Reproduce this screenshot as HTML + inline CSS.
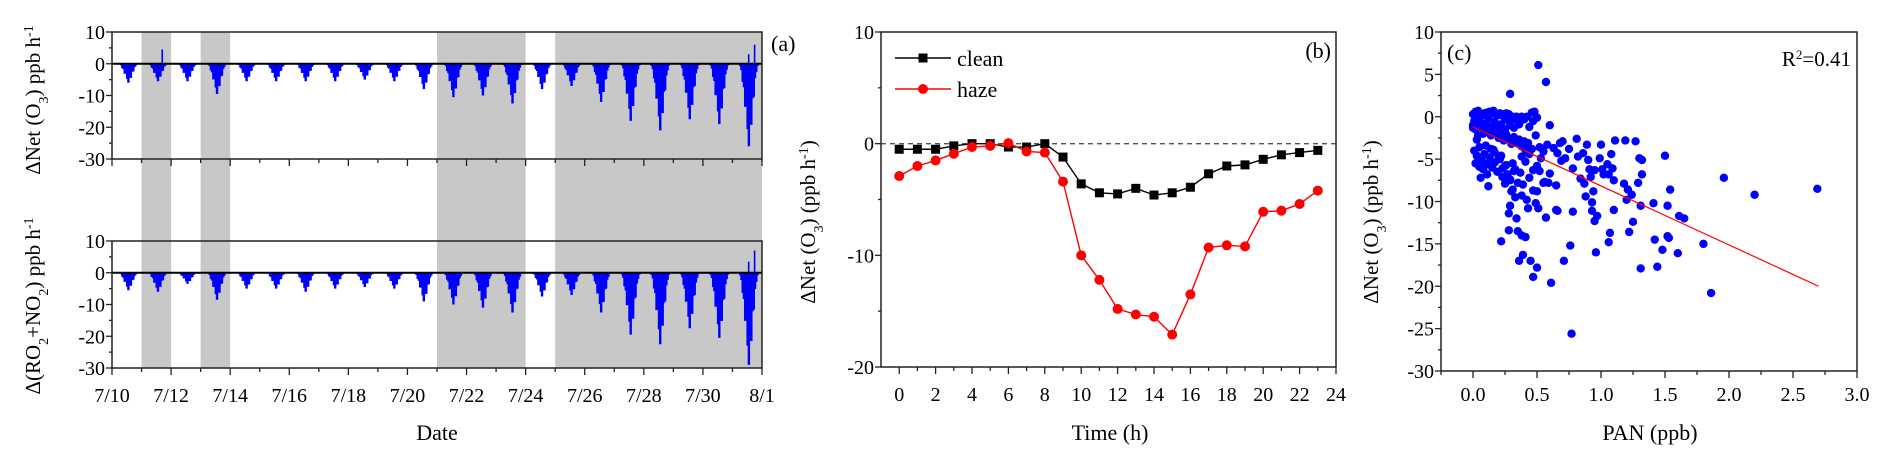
<!DOCTYPE html>
<html><head><meta charset="utf-8">
<style>
html,body{margin:0;padding:0;background:#fff;}
svg{display:block;font-family:"Liberation Serif","DejaVu Serif",serif;}
</style></head>
<body>
<svg id="fig" width="1892" height="464" viewBox="0 0 1892 464" xmlns="http://www.w3.org/2000/svg">
<g id="pa"></g>
<g id="pb"></g>
<g id="pc"></g>
</svg>
<script>
// ---------- Panel (a) data ----------
const dayLabels = ["7/10","7/12","7/14","7/16","7/18","7/20","7/22","7/24","7/26","7/28","7/30","8/1"];
const netDailyMin = [-6,-5.5,-5.5,-9.5,-5.5,-5.5,-5.5,-5.5,-5,-5.5,-8,-10.5,-10,-12.5,-8,-7,-12,-18,-21,-17.5,-19,-26];
const roDailyMin = [-5.5,-6,-3.5,-8.5,-5,-5,-6,-5,-4.5,-5,-9,-10,-11,-12.5,-7.5,-7,-12.5,-19.5,-22.5,-17.5,-20.5,-29];
const hourProfile = [0,0,0,0,0,0,0.03,0.1,0.22,0.38,0.55,0.72,0.88,1,0.92,0.78,0.6,0.4,0.22,0.1,0.03,0,0,0];
const hourJitter = [1,1,1,1,1,1,1,0.8,1.0,0.75,0.95,0.7,0.9,1,0.8,0.95,0.7,1,0.8,1,1,1,1,1];
const netSpikeDays = [1.7,21.55,21.75];
const netSpikeVals = [4.5,3,6];
const roSpikeDays = [21.55,21.75];
const roSpikeVals = [3.5,7];
const hazeStart = [1,3,11,15];
const hazeEnd = [2,4,14,22];
// ---------- Panel (b) data ----------
const hours = [0,1,2,3,4,5,6,7,8,9,10,11,12,13,14,15,16,17,18,19,20,21,22,23];
const cleanVals = [-0.5,-0.5,-0.5,-0.2,0,0,-0.3,-0.3,0,-1.2,-3.6,-4.4,-4.5,-4,-4.6,-4.4,-3.9,-2.7,-2.0,-1.9,-1.4,-1.0,-0.8,-0.6];
const hazeVals = [-2.9,-2.0,-1.5,-0.9,-0.3,-0.2,0.05,-0.7,-0.8,-3.4,-10,-12.2,-14.8,-15.3,-15.5,-17.1,-13.5,-9.3,-9.1,-9.2,-6.1,-6.0,-5.4,-4.2];
// ---------- Panel (c) data ----------
const panX = [0.51,0.57,0.29,0.03,0.06,0.12,0.22,0.28,0.35,0.34,0.38,0.41,0.36,0.39,0.45,0.47,0.5,0.61,0.77,0.71,0.76,0.78,0.65,0.66,0.57,0.51,0.49,0.43,0.42,0.38,0.33,0.29,0.28,0.3,0.47,0.5,0.55,0.59,0.52,0.6,0.65,0.69,0.72,0.75,0.78,0.81,0.82,0.84,0.86,0.87,0.88,0.89,0.9,0.91,0.92,0.93,0.93,0.94,0.95,0.96,0.97,0.95,0.99,1.0,1.01,1.02,1.05,1.06,1.07,1.06,1.08,1.09,1.1,1.1,1.11,1.18,1.19,1.2,1.21,1.22,1.24,1.25,1.27,1.29,1.3,1.31,1.31,1.32,1.32,1.41,1.42,1.44,1.48,1.5,1.52,1.52,1.53,1.54,1.6,1.61,1.65,1.8,1.86,1.96,2.2,2.69,
0.0,0.01,0.02,0.03,0.04,0.05,0.06,0.07,0.08,0.09,0.1,0.11,0.12,0.13,0.14,0.15,0.16,0.17,0.18,0.19,0.2,0.21,0.22,0.23,0.24,0.25,0.26,0.27,0.28,0.29,0.3,0.31,0.32,0.33,0.34,0.35,0.36,0.37,0.38,0.4,0.42,0.44,0.46,0.47,0.48,0.5,
0.0,0.02,0.04,0.06,0.08,0.1,0.12,0.14,0.16,0.18,0.2,0.22,0.24,0.26,0.28,0.3,0.32,0.34,0.36,0.38,0.4,0.43,0.46,0.49,0.52,0.55,0.58,0.6,0.63,0.66,0.68,0.7,
0.01,0.03,0.05,0.07,0.09,0.11,0.13,0.15,0.17,0.19,0.21,0.23,0.25,0.27,0.29,0.31,0.33,0.35,0.37,0.39,0.41,0.44,0.47,0.5,0.53,0.56,
0.02,0.05,0.08,0.11,0.14,0.17,0.2,0.23,0.26,0.29,0.32,0.35,0.38,0.41,0.44,0.0,0.04,0.1,0.16,0.22,0.25,0.31];
const dO3Y = [6.1,4.1,2.7,-2.7,-7.2,-8.2,-14.7,-13.4,-13.5,-12,-14,-14.2,-17,-16.3,-17,-18.9,-17.8,-19.6,-25.6,-17,-15.2,-11.2,-11,-11.1,-11.9,-10.8,-10.2,-10.8,-9.8,-9.3,-9.5,-10.5,-11.4,-8.8,-8.7,-8.8,-7.8,-7.8,-6.4,-6.7,-8.1,-5.2,-4.9,-3.8,-6.1,-2.6,-4.7,-7.3,-4.3,-7.9,-9.4,-3.3,-5.1,-6.2,-7.1,-11.1,-10.1,-8.8,-12.3,-16,-11.7,-6.3,-4.9,-3.3,-6.2,-6.8,-5.6,-6.8,-13.7,-14.8,-4.4,-6.1,-7.5,-11,-2.8,-7.9,-2.8,-9.8,-8.6,-13.6,-9.2,-12.4,-2.9,-7.8,-4.9,-10.5,-17.9,-6.8,-5.1,-10.2,-14.5,-17.7,-15.7,-4.6,-10.5,-14.1,-14.3,-8.6,-16.1,-11.7,-12,-15,-20.8,-7.2,-9.2,-8.5,
0.3,-0.5,0.6,-0.9,0.7,-0.3,0.3,-1.2,0.2,0.4,-0.8,0.5,-0.2,0.6,-1.4,0.4,0.7,-0.6,0.3,-1.1,0.2,0.4,-0.9,0.3,0,-1.5,0.4,-0.4,0.3,-1.0,-0.2,0,-1.3,-0.3,0,-0.4,-0.9,-0.5,0,-0.3,0,-1.2,0.5,-0.5,0.6,-0.1,
-1,-1.5,-0.8,-1.2,-2,-1.6,-1.1,-2.2,-1.8,-1.4,-2.5,-1.9,-2.8,-2.1,-2.6,-3.2,-2.4,-3,-2.7,-3.5,-2.9,-3.1,-3.8,-2.2,-3.6,-4.1,-3.3,-1,-3.7,-4.3,-3.1,-2.9,
-4,-4.6,-3.6,-5.2,-4.4,-5.6,-4.8,-6,-5.4,-6.5,-5,-7.1,-5.8,-6.8,-7.5,-5.5,-6.2,-7.8,-6.6,-8,-5.3,-7.2,-6.3,-5.8,-4.9,-7.7,
-5.5,-5.9,-6.2,-6.8,-3.8,-4.2,-4.9,-6.1,-5.7,-7.4,-6.4,-2.8,-4.7,-3.9,-4.4,-1.3,-2.2,-3.4,-3.9,-4.6,-7.9,-8.6];
const fitX = [0,2.7];
const fitY = [-1.2,-20];
const r2Text = "0.41";

const NS="http://www.w3.org/2000/svg";
function mk(parent,tag,attrs,text){const e=document.createElementNS(NS,tag);for(const k in attrs)e.setAttribute(k,attrs[k]);if(text!==undefined)e.textContent=text;parent.appendChild(e);return e;}

// ================= Panel A =================
const pa=document.getElementById('pa');
const aX0=112,aX1=762,NDAYS=22;
const ax=d=>aX0+(aX1-aX0)*d/NDAYS;
const topY=v=>32+(10-v)*(159-32)/40;
const botY=v=>241+(10-v)*(368-241)/40;
for(let i=0;i<hazeStart.length;i++){
  const r=mk(pa,'rect',{x:ax(hazeStart[i]),y:32,width:ax(hazeEnd[i])-ax(hazeStart[i]),height:368-32,fill:'#c8c8c8'});
  
  
}
function drawBars(yf,mins,spD,spV,name){
  const g=mk(pa,'g',{});
  
  
  let d='';
  for(let day=0;day<mins.length;day++){
    for(let h=0;h<24;h++){
      const v=mins[day]*hourProfile[h]*hourJitter[h];
      if(v===0)continue;
      for(let s=0;s<3;s++){
        const x=ax(day+(h+s/3)/24);
        d+=`M${x.toFixed(2)} ${yf(0)}V${yf(v).toFixed(2)}`;
      }
    }
  }
  for(let i=0;i<spD.length;i++){d+=`M${ax(spD[i]).toFixed(2)} ${yf(0)}V${yf(spV[i]).toFixed(2)}`;}
  mk(g,'path',{d:d,stroke:'#0000ff','stroke-width':1.6,fill:'none'});
}
function frameA(yf,name,showLabels){
  const g=mk(pa,'g',{});
  
  
  mk(g,'line',{x1:aX0,x2:aX1,y1:yf(0),y2:yf(0),stroke:'#000','stroke-width':2});
  mk(g,'rect',{x:aX0,y:yf(10),width:aX1-aX0,height:yf(-30)-yf(10),fill:'none',stroke:'#222','stroke-width':1.5});
  for(let v=-30;v<=10;v+=5){
    const major=v%10===0;
    mk(g,'line',{x1:aX0,x2:aX0-(major?6:3),y1:yf(v),y2:yf(v),stroke:'#222','stroke-width':1.3});
    if(major){const t=mk(g,'text',{x:aX0-7,y:yf(v)+7,'text-anchor':'end','font-size':20},String(v));
      }
  }
  for(let d=0;d<=NDAYS;d++){
    mk(g,'line',{x1:ax(d),x2:ax(d),y1:yf(-30),y2:yf(-30)+(d%2===0?7:4),stroke:'#222','stroke-width':1.3});
  }
  if(showLabels){
    for(let i=0;i<dayLabels.length;i++){
      const t=mk(g,'text',{x:ax(i*2),y:yf(-30)+34,'text-anchor':'middle','font-size':20},dayLabels[i]);
      
    }
  }
}
drawBars(topY,netDailyMin,netSpikeDays,netSpikeVals,'net-o3-bars');
drawBars(botY,roDailyMin,roSpikeDays,roSpikeVals,'ro2-no2-bars');
frameA(topY,'top-axes',false);
frameA(botY,'bottom-axes',true);
{
  let t=mk(pa,'text',{transform:'translate(40,100) rotate(-90)','text-anchor':'middle','font-size':21});
  
  t.innerHTML='ΔNet (O<tspan baseline-shift="sub" font-size="14">3</tspan>) ppb h<tspan baseline-shift="super" font-size="14">-1</tspan>';
  t=mk(pa,'text',{transform:'translate(40,306) rotate(-90)','text-anchor':'middle','font-size':21});
  
  t.innerHTML='Δ(RO<tspan baseline-shift="sub" font-size="14">2</tspan>+NO<tspan baseline-shift="sub" font-size="14">2</tspan>) ppb h<tspan baseline-shift="super" font-size="14">-1</tspan>';
  t=mk(pa,'text',{x:437,y:440,'text-anchor':'middle','font-size':22},'Date');
  
  t=mk(pa,'text',{x:771,y:51,'font-size':22},'(a)');
  
}

// ================= Panel B =================
const pb=document.getElementById('pb');
const bX=h=>881+(1336-881)*(h+1)/25;
const bY=v=>32+(10-v)*(367-32)/30;
mk(pb,'line',{x1:881,x2:1336,y1:bY(0),y2:bY(0),stroke:'#555','stroke-width':1.3,'stroke-dasharray':'5,4'});
mk(pb,'rect',{x:881,y:32,width:1336-881,height:367-32,fill:'none',stroke:'#222','stroke-width':1.5});
for(let v=-20;v<=10;v+=5){
  const major=v%10===0;
  mk(pb,'line',{x1:881,x2:881-(major?6:3),y1:bY(v),y2:bY(v),stroke:'#222','stroke-width':1.3});
  if(major){const t=mk(pb,'text',{x:874,y:bY(v)+7,'text-anchor':'end','font-size':20},String(v));
    }
}
for(let h=0;h<=24;h++){
  mk(pb,'line',{x1:bX(h),x2:bX(h),y1:367,y2:367+(h%2===0?7:4),stroke:'#222','stroke-width':1.3});
  if(h%2===0){const t=mk(pb,'text',{x:bX(h),y:401,'text-anchor':'middle','font-size':20},String(h));
    }
}
function series(vals,color,name,shape){
  const g=mk(pb,'g',{});
  
  
  mk(g,'polyline',{points:hours.map((h,i)=>bX(h)+','+bY(vals[i])).join(' '),fill:'none',stroke:color,'stroke-width':1.4});
  hours.forEach((h,i)=>{
    let m;
    if(shape==='sq') m=mk(g,'rect',{x:bX(h)-4.5,y:bY(vals[i])-4.5,width:9,height:9,fill:color});
    else m=mk(g,'circle',{cx:bX(h),cy:bY(vals[i]),r:5,fill:color});
    
    
  });
}
series(cleanVals,'#000','clean-series','sq');
series(hazeVals,'#ff0000','haze-series','ci');
{
  let g=mk(pb,'g',{});
  mk(g,'line',{x1:895,x2:951,y1:58,y2:58,stroke:'#000','stroke-width':1.4});
  mk(g,'rect',{x:918.5,y:53.5,width:9,height:9,fill:'#000'});
  mk(g,'text',{x:957,y:66,'font-size':22},'clean');
  g=mk(pb,'g',{});
  mk(g,'line',{x1:895,x2:951,y1:89,y2:89,stroke:'#ff0000','stroke-width':1.4});
  mk(g,'circle',{cx:923,cy:89,r:5,fill:'#ff0000'});
  mk(g,'text',{x:957,y:97,'font-size':22},'haze');
  let t=mk(pb,'text',{x:1331,y:58,'text-anchor':'end','font-size':22},'(b)');
  
  t=mk(pb,'text',{transform:'translate(815,222) rotate(-90)','text-anchor':'middle','font-size':21});
  
  t.innerHTML='ΔNet (O<tspan baseline-shift="sub" font-size="14">3</tspan>) (ppb h<tspan baseline-shift="super" font-size="14">-1</tspan>)';
  t=mk(pb,'text',{x:1110,y:440,'text-anchor':'middle','font-size':22},'Time (h)');
  
}

// ================= Panel C =================
const pc=document.getElementById('pc');
const cX=v=>1441+(1857-1441)*(v+0.25)/3.25;
const cY=v=>32+(10-v)*(371-32)/40;
mk(pc,'rect',{x:1441,y:32,width:1857-1441,height:371-32,fill:'none',stroke:'#222','stroke-width':1.5});
for(let i=0;i<=16;i++){
  const v=-30+i*2.5;const major=i%2===0;
  mk(pc,'line',{x1:1441,x2:1441-(major?6:3),y1:cY(v),y2:cY(v),stroke:'#222','stroke-width':1.3});
  if(major){const t=mk(pc,'text',{x:1434,y:cY(v)+7,'text-anchor':'end','font-size':20},String(v));
    }
}
for(let i=-1;i<=12;i++){
  const v=i*0.25;const major=i%2===0;
  mk(pc,'line',{x1:cX(v),x2:cX(v),y1:371,y2:371+(major?7:4),stroke:'#222','stroke-width':1.3});
  if(major&&i>=0){const t=mk(pc,'text',{x:cX(v),y:401,'text-anchor':'middle','font-size':20},v.toFixed(1));
    }
}
{
  const g=mk(pc,'g',{});
  for(let i=0;i<panX.length;i++){
    const c=mk(g,'circle',{cx:cX(panX[i]),cy:cY(dO3Y[i]),r:4.2,fill:'#0000ff'});
    
    
  }
  const l=mk(pc,'line',{x1:cX(fitX[0]),y1:cY(fitY[0]),x2:cX(fitX[1]),y2:cY(fitY[1]),stroke:'#ff0000','stroke-width':1.2});
  
  let t=mk(pc,'text',{x:1447,y:60,'font-size':22},'(c)');
  
  t=mk(pc,'text',{x:1851,y:66,'text-anchor':'end','font-size':21});
  
  t.innerHTML='R<tspan baseline-shift="super" font-size="13">2</tspan>='+r2Text;
  t=mk(pc,'text',{transform:'translate(1378,222) rotate(-90)','text-anchor':'middle','font-size':21});
  
  t.innerHTML='ΔNet (O<tspan baseline-shift="sub" font-size="14">3</tspan>) (ppb h<tspan baseline-shift="super" font-size="14">-1</tspan>)';
  t=mk(pc,'text',{x:1650,y:440,'text-anchor':'middle','font-size':22},'PAN (ppb)');
  
}
</script>
</body></html>
